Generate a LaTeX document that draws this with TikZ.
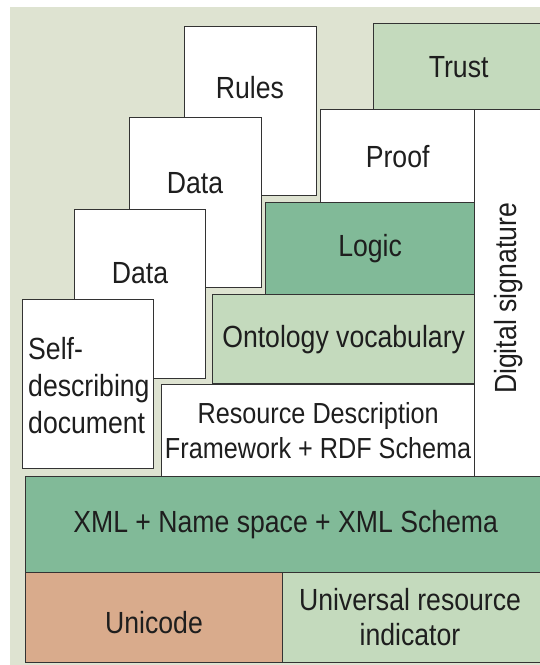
\documentclass[tikz,border=0pt]{standalone}
\usepackage{fontspec}
\setmainfont[FakeStretch=0.87]{Liberation Sans}
\definecolor{bgc}{HTML}{DEE3D1}
\definecolor{lgreen}{HTML}{C4DABD}
\definecolor{mgreen}{HTML}{81BA98}
\definecolor{salmon}{HTML}{D9AB8C}
\definecolor{linec}{HTML}{333333}
\definecolor{txtc}{HTML}{1E1E1E}
\tikzset{
  blk/.style={draw=linec, line width=1.3pt, rectangle, inner sep=0pt, anchor=north west,
    font=\fontsize{30.6}{37}\selectfont, align=center, text=txtc},
  lbl/.style={inner sep=0pt, font=\fontsize{30.6}{37}\selectfont, text=txtc}
}
\begin{document}
\begin{tikzpicture}[x=1pt,y=-1pt]
\useasboundingbox (0,0) rectangle (539,665);
\fill[bgc] (10,7) rectangle (545,670);
% left staircase
\node[blk, fill=white, minimum width=132pt, minimum height=169pt] (rules) at (184,26) {};
\node[blk, fill=white, minimum width=132pt, minimum height=170pt] (data2) at (129,117) {};
\node[blk, fill=white, minimum width=131pt, minimum height=169pt] (data1) at (74,209) {};
\node[blk, fill=white, minimum width=131pt, minimum height=169pt] (self) at (22,299) {};
\node[lbl, anchor=base] (rulesT) at (250,98) {Rules};
\node[lbl, anchor=base] (data2T) at (195,193) {Data};
\node[lbl, anchor=base] (data1T) at (140,283) {Data};
\node[lbl, anchor=west, align=left] (selfT) at (28,386) {Self-\\describing\\document};
% right stack
\node[blk, fill=lgreen, minimum width=170pt, minimum height=86pt] (trust) at (373,23) {Trust};
\node[blk, fill=white, minimum width=154pt, minimum height=93pt] (proof) at (320,109) {Proof};
\node[blk, fill=white, minimum width=70pt, minimum height=367pt] (dsig) at (474,109) {};
\node[lbl, rotate=90] (dsigT) at (509,298.5) {Digital signature};
\node[blk, fill=mgreen, minimum width=209pt, minimum height=92pt] (logic) at (265,202) {Logic};
\node[blk, fill=lgreen, minimum width=262pt, minimum height=89pt] (onto) at (212,294) {Ontology vocabulary};
\node[blk, fill=white, minimum width=313pt, minimum height=92pt,
  font=\fontsize{29}{35}\selectfont] (rdf) at (161,384) {Resource Description\\Framework + RDF Schema};
% base layers
\node[blk, fill=mgreen, minimum width=520pt, minimum height=96pt] (xml) at (25,476) {XML + Name space + XML Schema};
\node[blk, fill=salmon, minimum width=257pt, minimum height=90pt] (uni) at (25,572) {};
\node[lbl, anchor=base] (uniT) at (154,633) {Unicode};
\node[blk, fill=lgreen, minimum width=262pt, minimum height=90pt,
  font=\fontsize{30.6}{35}\selectfont] (uri) at (282,572) {};
\node[lbl, align=center, font=\fontsize{30.6}{35}\selectfont] (uriT) at (410,617) {Universal resource\\indicator};
\end{tikzpicture}
\end{document}
